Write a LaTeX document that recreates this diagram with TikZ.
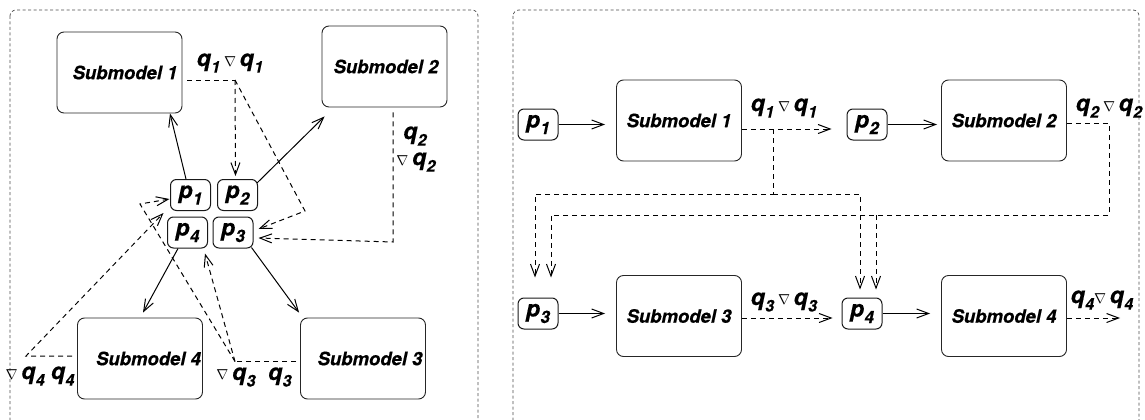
\documentclass[tikz,border=0pt]{standalone}
\usepackage{fontspec}
\setmainfont{TeX Gyre Heros}[BoldItalicFeatures={FakeBold=0.4}]
\usetikzlibrary{arrows.meta}
\newcommand\qv[1]{q\kern0.3pt\raisebox{-6.5pt}{\fontsize{16}{16}\selectfont #1}}
\newcommand\pv[1]{p\kern0.3pt\raisebox{-6.5pt}{\fontsize{17}{17}\selectfont #1}}
\newcommand\nab{{\fontsize{14.4}{15}\selectfont$\nabla$}}
\tikzset{
  smbox/.style={draw=black!85, line width=0.9pt, rounded corners=7pt, minimum width=125pt, minimum height=81pt, inner sep=0pt, font=\fontsize{18.5}{20}\selectfont\bfseries\itshape},
  pbox/.style={draw=black!90, line width=1pt, rounded corners=6pt, minimum width=40pt, minimum height=31pt, inner sep=0pt, font=\fontsize{23}{23}\selectfont\bfseries\itshape},
  lbl/.style={inner sep=0pt, font=\fontsize{23}{23}\selectfont\bfseries\itshape},
  frame/.style={draw=black!70, line width=0.7pt, dash pattern=on 3pt off 2.5pt, rounded corners=6pt},
  conn/.style={line width=1pt, draw=black},
  arr/.style={conn, -{Straight Barb[length=12pt,width=9pt,line width=1pt]}},
  dsh/.style={conn, dash pattern=on 5pt off 4pt},
}
\begin{document}
\begin{tikzpicture}[x=1pt,y=-1pt]
\useasboundingbox (0,0) rectangle (1145,420);
\clip (0,0) rectangle (1145,420);
% frames
\draw[frame] (10,10) rectangle (478,445);
\draw[frame] (513,10) rectangle (1139,445);

% ---------------- left panel ----------------
\node[smbox] (S1) at (119.5,72.5) {\hspace*{11pt}Submodel 1};
\node[smbox] (S2) at (384.5,66.5) {\hspace*{3pt}Submodel 2};
\node[smbox] (S4) at (140,358.5) {\hspace*{17pt}Submodel 4};
\node[smbox] (S3) at (363,358.5) {\hspace*{14pt}Submodel 3};
\node[pbox] (p1) at (190.5,195) {\pv1};
\node[pbox] (p2) at (237.5,195) {\pv2};
\node[pbox] (p4) at (187.5,232.5) {\pv4};
\node[pbox] (p3) at (233,232.5) {\pv3};

\node[lbl] (l1) at (230,63) {\qv1\,\nab\,\qv1};
\node[lbl] (l2a) at (415,136) {\qv2};
\node[lbl] (l2b) at (416,162) {\nab\,\qv2};
\node[lbl] (l4) at (40,376) {\nab\,\qv4\ \qv4};
\node[lbl] (l3) at (254,377) {\nab\,\qv3\ \ \qv3};

% solid p -> submodel
\draw[arr] ([shift={(-4.5,0)}]p1.north) -- ([shift={(50.5,0)}]S1.south);
\draw[arr] ([shift={(-1,4)}]p2.north east) -- ([shift={(3,9)}]S2.south west);
\draw[arr] ([shift={(-9.5,0)}]p4.south) -- ([shift={(3,-5)}]S4.north);
\draw[arr] ([shift={(-2,-1)}]p3.south east) -- ([shift={(-1,-5)}]S3.north west);

% q1
\coordinate (c1) at (235,80);
\coordinate (c2) at (305,211);
\draw[dsh] ([shift={(5,7.5)}]S1.east) -- (c1);
\draw[dsh,arr] (c1) -- ([shift={(-2,-3)}]p2.north);
\draw[dsh,arr] (c1) -- (c2) -- ([shift={(5,-3.5)}]p3.east);
% q2
\coordinate (c3) at (393,242);
\draw[dsh,arr] ([shift={(8.5,5)}]S2.south) -- (c3) -- ([shift={(5,5.5)}]p3.east);
% q3
\coordinate (c4) at (235,361.5);
\coordinate (c5) at (140,204);
\draw[dsh] ([shift={(-4,3)}]S3.west) -- (c4);
\draw[dsh,arr] (c4) -- ([shift={(-3,5)}]p4.south east);
\draw[dsh,arr] (c4) -- (c5) -- ([shift={(-0.5,4)}]p1.west);
% q4
\coordinate (c6) at (26,356);
\draw[dsh,arr] ([shift={(-5,-2.5)}]S4.west) -- (c6) -- ([shift={(-6.5,2)}]p1.south west);

% ---------------- right panel ----------------
\node[pbox] (r1) at (538,124.5) {\pv1};
\node[smbox] (R1) at (679,120.5) {Submodel 1};
\node[pbox] (r2) at (867,124.5) {\pv2};
\node[smbox] (R2) at (1004,120.5) {Submodel 2};
\node[pbox] (r3) at (538,313.5) {\pv3};
\node[smbox] (R3) at (679,316) {Submodel 3};
\node[pbox] (r4) at (862,313.5) {\pv4};
\node[smbox] (R4) at (1004,316) {Submodel 4};

\node[lbl] (m1) at (784,108) {\qv1\,\nab\,\qv1};
\node[lbl] (m2) at (1109,108) {\qv2\,\nab\,\qv2};
\node[lbl] (m3) at (784,302) {\qv3\,\nab\,\qv3};
\node[lbl] (m4) at (1102,300) {\qv4\nab\,\qv4};

\draw[arr, shorten >=11pt] (r1.east) -- (r1.east -| R1.west);
\draw[arr, shorten >=4pt] (r2.east) -- (r2.east -| R2.west);
\draw[arr, shorten >=11pt] (r3.east) -- (r3.east -| R3.west);
\draw[arr, shorten >=11pt] (r4.east) -- (r4.east -| R4.west);

% q1 right
\coordinate (c7) at (773,129);
\coordinate (c8) at (773,194);
\coordinate (c9) at (535,194);
\coordinate (c10) at (860,194);
\draw[dsh,arr] ([shift={(0,8.5)}]R1.east) -- ([shift={(-15,4.5)}]r2.west);
\draw[dsh,arr] (c7) -- (c8) -- (c9) -- ([shift={(-3,-20)}]r3.north);
\draw[dsh,arr] (c8) -- (c10) -- ([shift={(-2,-8)}]r4.north);
% q2 right
\coordinate (c11) at (1109,123);
\coordinate (c12) at (1109,215);
\coordinate (c13) at (551,215);
\coordinate (c14) at (876,215);
\draw[dsh,arr] ([shift={(0,2.5)}]R2.east) -- (c11) -- (c12) -- (c13) -- ([shift={(13,-20)}]r3.north);
\draw[dsh,arr] (c14) -- ([shift={(14,-8)}]r4.north);
% q3 right
\draw[dsh,arr] ([shift={(0,2)}]R3.east) -- ([shift={(-9,4.5)}]r4.west);
% q4 right
\coordinate (c15) at (1120,318);
\draw[dsh,arr] ([shift={(0,2)}]R4.east) -- (c15);
\end{tikzpicture}
\end{document}
